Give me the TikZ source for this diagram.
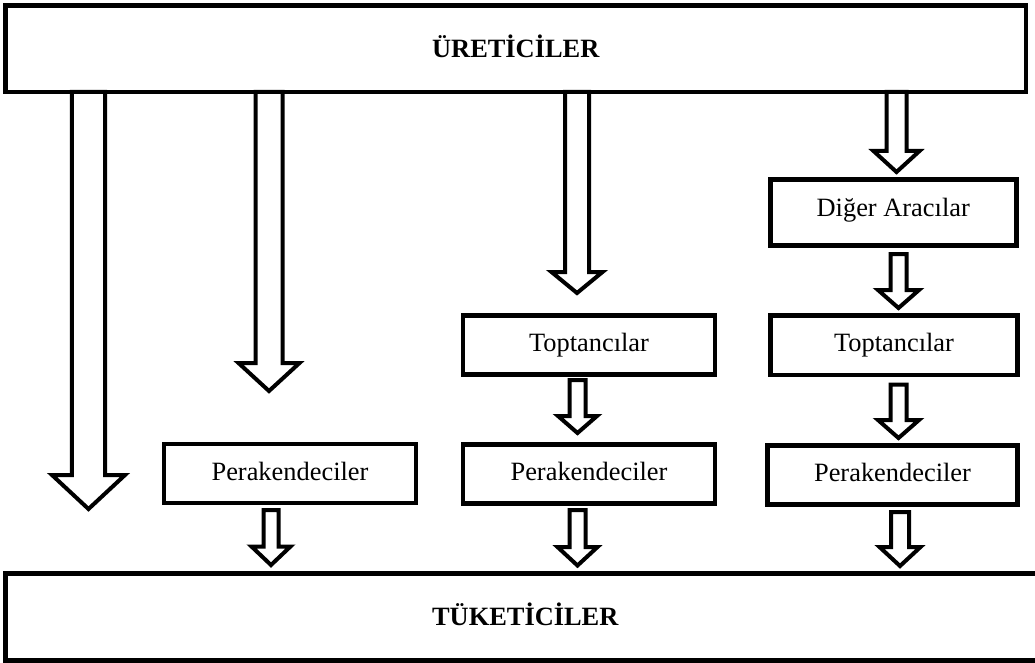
\documentclass[tikz,border=0pt]{standalone}
\usepackage{fontspec}
\setmainfont{Liberation Serif}
\usetikzlibrary{calc}

\tikzset{
  box/.style={draw, rectangle, line width=4.5pt, inner sep=0pt, outer sep=0pt,
    font=\fontsize{26.4}{30}\selectfont, text height=18.5pt, text depth=5.3pt,
    minimum width=252pt, minimum height=59pt},
  titlebox/.style={box, font=\fontsize{26.4}{30}\selectfont\bfseries,
    text height=19.8pt, text depth=2.6pt},
  blockarrow/.style={draw, line width=4pt, line join=miter, miter limit=10},
}

% Hollow block arrow on a vertical axis.
% #1 axis x, #2 source anchor, #3 target anchor, #4 gap below source,
% #5 gap above target, #6 half shaft width, #7 half head width, #8 head length
\newcommand\blkarrow[8]{%
  \draw[blockarrow] let \p1=(#2), \p2=(#3),
      \n1={\y1-#4pt}, \n2={\y2+#5pt} in
    (#1pt-#6pt,\n1) -- (#1pt-#6pt,\n2+#8pt) -- (#1pt-#7pt,\n2+#8pt)
    -- (#1pt,\n2) -- (#1pt+#7pt,\n2+#8pt) -- (#1pt+#6pt,\n2+#8pt)
    -- (#1pt+#6pt,\n1) -- cycle;}

\begin{document}
\begin{tikzpicture}[x=1pt, y=-1pt]
  \useasboundingbox (0,0) rectangle (1035,663);
  \clip (0,0) rectangle (1035,663);

  % producers and consumers
  \node[titlebox, minimum width=1020.5pt, minimum height=86.5pt] (uret) at (515.75,48.75) {ÜRETİCİLER};
  \node[titlebox, minimum width=1039.5pt, minimum height=87pt] (tuket) at (525.25,617) {TÜKETİCİLER};

  % intermediaries
  \node[box] (perL) at (290,473.5) {Perakendeciler};
  \node[box] (toptM) at (589,345) {Toptancılar};
  \node[box] (perM) at (589,474) {Perakendeciler};
  \node[box, minimum width=246pt, minimum height=66pt, text depth=11.4pt] (diger) at (893.25,212.5) {Diğer Aracılar};
  \node[box, minimum width=247pt, minimum height=59.5pt] (toptR) at (894,345.25) {Toptancılar};
  \node[box, minimum width=250pt] (perR) at (892.5,475) {Perakendeciler};

  % free ends of the two direct channels
  \coordinate (endA1) at (88.5,509);
  \coordinate (endA2) at (269,391);

  % channels leaving the producers
  \blkarrow{88.5}{uret.south}{endA1}{0}{0}{16.7}{36.5}{34}
  \blkarrow{269}{uret.south}{endA2}{0}{0}{13.5}{30.5}{28}
  \blkarrow{577}{uret.south}{toptM.north}{0}{22.5}{12}{25.5}{21}
  \blkarrow{896.5}{uret.south}{diger.north}{0}{7.5}{10}{23}{21}

  % steps between intermediaries
  \blkarrow{271}{perL.south}{tuket.north}{7}{8.5}{7.5}{19.5}{18.5}
  \blkarrow{577.5}{toptM.south}{perM.north}{5.5}{11.5}{8}{19.5}{17}
  \blkarrow{577.5}{perM.south}{tuket.north}{6.5}{8}{8}{20}{18.5}
  \blkarrow{898.5}{diger.south}{toptR.north}{8.5}{7.5}{8}{20.5}{18}
  \blkarrow{898.5}{toptR.south}{perR.north}{9.5}{7.5}{8}{20.5}{18}
  \blkarrow{900}{perR.south}{tuket.north}{7.5}{7.5}{9}{20.5}{19}
\end{tikzpicture}
\end{document}
